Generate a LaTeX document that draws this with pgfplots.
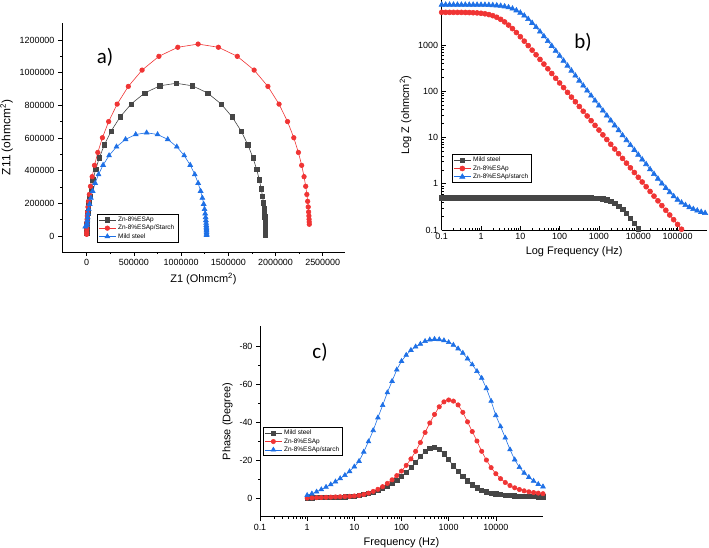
\documentclass[border=0pt]{standalone}
\usepackage{fontspec}
\setmainfont{Liberation Sans}
\newfontfamily\calib{Carlito}
\usepackage{pgfplots}
\pgfplotsset{compat=1.18}
\usepackage{pgfplotstable}

\definecolor{sgray}{RGB}{70,70,70}
\definecolor{sred}{RGB}{240,52,52}
\definecolor{sblue}{RGB}{30,112,230}

% Nyquist data (Z1, Z11)
\pgfplotstableread{
x y
1895000 8100
1894800 18000
1894400 32600
1893800 47300
1893200 57000
1892400 68400
1891400 81500
1889800 97700
1887500 117200
1884100 141500
1879500 168800
1872500 202300
1862700 242000
1848700 288900
1828500 344200
1800500 406900
1761400 478700
1708200 557400
1636000 642400
1541200 728600
1424100 808100
1280800 875300
1120100 919400
947500 935000
774900 919400
614200 875300
470900 808100
353800 728600
259000 642400
186800 557400
133600 478700
94500 406900
66500 344200
46300 288900
32300 242000
22500 202300
15500 168800
10900 141500
7500 117200
5200 97700
3600 81500
2600 68400
1800 57000
1200 47300
600 32600
200 18000
}\nyqzn

\pgfplotstableread{
x y
2357800 71700
2356800 86000
2355500 102500
2353500 122800
2350700 147200
2346400 177800
2340600 212100
2332000 254300
2319800 304100
2302300 363100
2277200 432500
2242400 511400
2193600 601600
2127300 700500
2037400 807300
1919400 915700
1773500 1015600
1595100 1099900
1395000 1155400
1180000 1175000
965000 1155400
764900 1099900
586500 1015600
440600 915700
322600 807300
232700 700500
166400 601600
117600 511400
82800 432500
57700 363100
40200 304100
28000 254300
19400 212100
13600 177800
9300 147200
6500 122800
4500 102500
3200 86000
2200 71700
1500 59500
700 41000
200 22600
50 10000
}\nyqzns

\pgfplotstableread{
x y
1270000 5500
1269900 12100
1269600 22100
1269200 32000
1268800 38600
1268300 46300
1267600 55100
1266500 66000
1265000 79200
1262700 95600
1259600 114100
1255000 136800
1248300 163600
1238900 195300
1225400 232600
1206700 275000
1180500 323600
1144800 376800
1096400 434200
1032900 492500
954400 546200
858400 591600
750700 621400
635000 632000
519300 621400
411600 591600
315600 546200
237100 492500
173600 434200
125200 376800
89500 323600
63300 275000
44600 232600
31000 195300
21700 163600
15000 136800
10400 114100
7300 95600
5000 79200
3500 66000
-15000 57000
}\nyqms

% Bode modulus: f, mild steel, Zn-8%ESAp, Zn-8%ESAp/starch
\pgfplotstableread{
f ms zn zns
0.1 0.50 5093 7413
0.1259 0.50 5088 7413
0.1585 0.50 5086 7412
0.1995 0.50 5081 7411
0.2512 0.50 5076 7410
0.3162 0.50 5070 7408
0.3981 0.50 5054 7406
0.5012 0.50 5030 7403
0.6310 0.495 4989 7396
0.7943 0.495 4940 7386
1 0.495 4853 7370
1.259 0.495 4732 7345
1.585 0.495 4550 7305
1.995 0.495 4305 7244
2.512 0.495 3981 7150
3.162 0.495 3589 7008
3.981 0.49 3155 6798
5.012 0.49 2698 6501
6.310 0.49 2259 6095
7.943 0.49 1858 5581
10 0.49 1510 4971
12.59 0.49 1213 4303
15.85 0.49 971 3629
19.95 0.49 774 2992
25.12 0.49 615 2426
31.62 0.49 488 1941
39.81 0.49 387 1539
50.12 0.49 306 1214
63.10 0.49 242 953
79.43 0.49 191 746
100 0.49 151 584
125.9 0.49 120 456
158.5 0.49 94.6 356
199.5 0.49 74.8 278
251.2 0.49 59.2 217
316.2 0.49 46.8 169
398.1 0.49 37.0 132
501.2 0.49 29.2 103
631.0 0.49 23.1 80.2
794.3 0.488 18.3 62.6
1000 0.481 14.5 48.8
1259 0.468 11.4 38.1
1585 0.446 9.04 29.7
1995 0.417 7.14 23.3
2512 0.376 5.65 18.2
3162 0.327 4.47 14.3
3981 0.279 3.53 11.1
5012 0.232 2.79 8.73
6310 0.180 2.21 6.84
7943 0.14 1.75 5.37
10000 0.107 1.38 4.23
12590 nan 1.09 3.34
15850 nan 0.863 2.64
19950 nan 0.682 2.05
25120 nan 0.540 1.62
31620 nan 0.427 1.28
39810 nan 0.337 1.01
50120 nan 0.267 0.81
63100 nan 0.211 0.655
79430 nan 0.167 0.535
100000 nan 0.132 0.45
125900 nan 0.104 0.39
158500 nan nan 0.345
199500 nan nan 0.31
251200 nan nan 0.283
316200 nan nan 0.262
398100 nan nan 0.245
501200 nan nan 0.232
}\bode

% Phase: f, mild steel, Zn-8%ESAp, Zn-8%ESAp/starch
\pgfplotstableread{
f ms zn zns
1 0.0 0.0 -1.5
1.259 -0.1 -0.1 -2.3
1.585 -0.2 -0.2 -3.3
1.995 -0.2 -0.3 -4.5
2.512 -0.3 -0.4 -5.8
3.162 -0.4 -0.5 -7.1
3.981 -0.5 -0.6 -8.6
5.012 -0.6 -0.7 -10.3
6.310 -0.7 -0.8 -12.0
7.943 -0.8 -0.9 -14.0
10 -1.0 -1.1 -16.5
12.59 -1.3 -1.4 -19.4
15.85 -1.8 -1.9 -24.3
19.95 -2.4 -2.6 -29.7
25.12 -3.2 -3.5 -35.6
31.62 -4.1 -4.6 -42.3
39.81 -5.1 -6.0 -48.8
50.12 -6.3 -7.7 -55.5
63.10 -7.8 -9.6 -61.5
79.43 -9.4 -11.8 -67.5
100 -11.3 -14.2 -72.0
125.9 -13.5 -17.2 -75.2
158.5 -16.0 -20.6 -77.8
199.5 -18.8 -24.6 -79.6
251.2 -21.8 -29.2 -81.0
316.2 -24.5 -34.5 -82.5
398.1 -26.2 -39.5 -83.3
501.2 -26.7 -44.0 -83.6
631.0 -25.5 -48.0 -83.4
794.3 -23.3 -50.6 -82.9
1000 -20.2 -51.6 -81.9
1259 -17.0 -51.0 -80.5
1585 -14.1 -49.0 -78.6
1995 -11.5 -45.1 -76.3
2512 -9.1 -40.1 -73.3
3162 -7.0 -35.0 -70.2
3981 -5.4 -30.0 -66.7
5012 -4.2 -24.6 -63.1
6310 -3.3 -20.0 -57.7
7943 -2.7 -16.0 -51.0
10000 -2.2 -12.8 -43.5
12590 -1.9 -10.2 -37.6
15850 -1.6 -8.2 -31.7
19950 -1.4 -6.6 -25.5
25120 -1.2 -5.4 -20.2
31620 -1.1 -4.5 -16.2
39810 -1.0 -3.8 -13.2
50120 -0.9 -3.3 -11.0
63100 -0.8 -2.9 -9.0
79430 -0.7 -2.6 -7.3
100000 -0.7 -2.3 -6.0
}\phase

\pgfplotsset{
  eis/.style={
    scale only axis,
    anchor=south west,
    axis x line*=bottom,
    axis y line*=left,
    axis line style={line width=0.7pt},
    tick style={black, line width=0.6pt},
    tick align=outside,
    major tick length=4bp,
    minor tick length=2bp,
    tick label style={font=\fontsize{9}{10}\selectfont},
    label style={font=\fontsize{11}{12}\selectfont},
    /pgf/number format/assume math mode=true,
    legend cell align=left,
    legend style={font=\fontsize{6.5}{7}\selectfont, draw=black, line width=0.5pt,
      anchor=south west, inner xsep=1.5pt, inner ysep=0.5pt, row sep=-1.8pt},
  },
  gs/.style={color=sgray, line width=0.6pt, mark=square*, mark size=#1},
  rs/.style={color=sred, line width=0.6pt, mark=*, mark size=#1},
  bs/.style={color=sblue, line width=0.6pt, mark=triangle*, mark size=#1},
}

\begin{document}
\begin{tikzpicture}
\useasboundingbox (0,0) rectangle (709bp,548bp);

% a) Nyquist
\begin{axis}[eis,
  at={(62bp,296bp)}, width=283bp, height=229bp,
  xmin=-261600, xmax=2736000, ymin=-98000, ymax=1304000,
  xtick={0,500000,1000000,1500000,2000000,2500000},
  ytick={0,200000,400000,600000,800000,1000000,1200000},
  minor x tick num=1, minor y tick num=1,
  scaled ticks=false,
  /pgf/number format/fixed, /pgf/number format/1000 sep={},
  xlabel={Z1 (Ohmcm\textsuperscript{2})},
  ylabel={Z11 (ohmcm\textsuperscript{2})},
  ylabel style={font=\fontsize{12}{13}\selectfont},
  legend style={at={(rel axis cs:0.123,0.042)}},
]
\addplot[gs=2.2pt] table[x=x,y=y] {\nyqzn};
\addplot[rs=2.3pt] table[x=x,y=y] {\nyqzns};
\addplot[bs=2.8pt] table[x=x,y=y] {\nyqms};
\legend{Zn-8\%ESAp, Zn-8\%ESAp/Starch, Mild steel}
\end{axis}

% b) Bode modulus
\begin{axis}[eis,
  at={(441.7bp,318bp)}, width=265bp, height=230bp,
  xmode=log, ymode=log,
  xmin=0.1, xmax=550000, ymin=0.1, ymax=9400,
  tick align=inside,
  xtick={0.1,1,10,100,1000,10000,100000},
  xticklabels={0.1,1,10,100,1000,10000,100000},
  ytick={0.1,1,10,100,1000},
  yticklabels={0.1,1,10,100,1000},
  xlabel={Log Frequency (Hz)},
  ylabel={Log Z (ohmcm\textsuperscript{2})},
  legend style={at={(rel axis cs:0.038,0.206)}},
]
\addplot[gs=2.3pt] table[x=f,y=ms] {\bode};
\addplot[rs=2.5pt] table[x=f,y=zn] {\bode};
\addplot[bs=3pt] table[x=f,y=zns] {\bode};
\legend{Mild steel, Zn-8\%ESAp, Zn-8\%ESAp/starch}
\end{axis}

% c) Phase
\begin{axis}[eis,
  at={(260bp,31.3bp)}, width=283bp, height=190.7bp,
  xmode=log, y dir=reverse,
  xmin=0.1, xmax=100000, ymin=-90.5, ymax=9.8,
  xtick={0.1,1,10,100,1000,10000},
  xticklabels={0.1,1,10,100,1000,10000},
  ytick={-80,-60,-40,-20,0},
  minor y tick num=1,
  xlabel={Frequency (Hz)},
  ylabel={Phase (Degree)},
  legend style={at={(rel axis cs:0.01,0.32)}},
]
\addplot[gs=2.1pt] table[x=f,y=ms] {\phase};
\addplot[rs=2.2pt] table[x=f,y=zn] {\phase};
\addplot[bs=2.7pt] table[x=f,y=zns] {\phase};
\legend{Mild steel, Zn-8\%ESAp, Zn-8\%ESAp/starch}
\end{axis}

\node[font=\calib\fontsize{21}{22}\selectfont] at (105bp,490.5bp) {a)};
\node[font=\calib\fontsize{21}{22}\selectfont] at (583bp,506bp) {b)};
\node[font=\calib\fontsize{21}{22}\selectfont] at (320bp,196bp) {c)};
\end{tikzpicture}
\end{document}
